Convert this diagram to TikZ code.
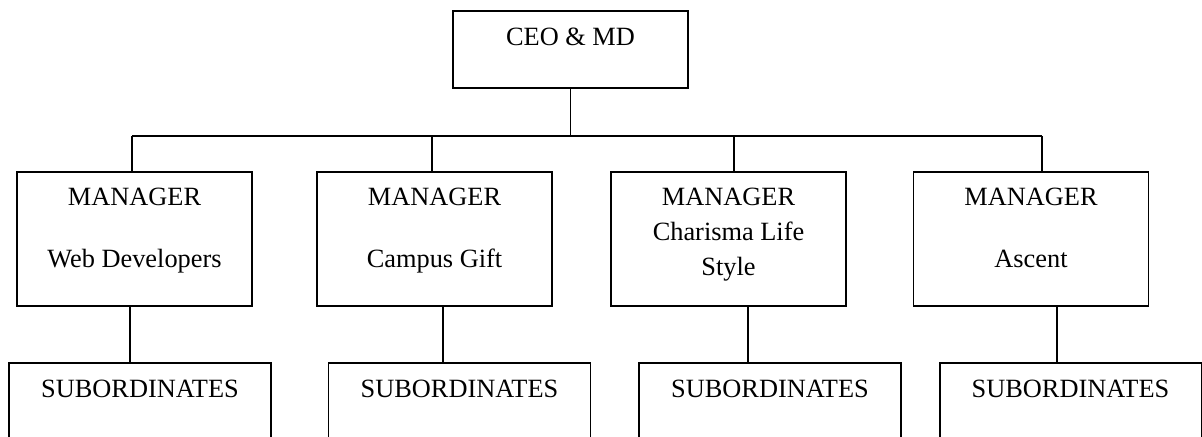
\documentclass[tikz,border=0pt]{standalone}
\usepackage{fontspec}
\setmainfont{Liberation Serif}
\newcommand{\boxlines}[1]{\begin{tabular}[t]{@{}c@{}}#1\end{tabular}}
\begin{document}
\begin{tikzpicture}[x=0.016cm, y=-0.016cm, line width=0.8pt,
		font=\fontsize{12pt}{16pt}\selectfont,
		ceobox/.style={draw, rectangle, inner sep=0pt, minimum width=3.76cm, anchor=north, text height=15.9pt, text depth=19.1pt},
		mgrbox/.style={draw, rectangle, inner sep=0pt, minimum width=3.76cm, anchor=north, text height=15.4pt, text depth=45.8pt},
		subbox/.style={draw, rectangle, inner sep=0pt, minimum width=4.19cm, anchor=north, text height=15.9pt, text depth=40pt}]
			\useasboundingbox (0,0) rectangle (1202,437);
			\clip (0,0) rectangle (1202,437);

			\node (ceo)[ceobox] at (570.5, 10) {CEO \& MD};

			\node (m1)[mgrbox] at (134.5, 171) {\boxlines{MANAGER\\[12pt]Web Developers}};
			\node (m2)[mgrbox] at (434.5, 171) {\boxlines{MANAGER\\[12pt]Campus Gift}};
			\node (m3)[mgrbox] at (728.5, 171) {\boxlines{MANAGER\\Charisma Life\\Style}};
			\node (m4)[mgrbox] at (1031, 171) {\boxlines{MANAGER\\[12pt]Ascent}};

			\node (s1)[subbox] at (140, 362) {SUBORDINATES};
			\node (s2)[subbox] at (459.5, 362) {SUBORDINATES};
			\node (s3)[subbox] at (770, 362) {SUBORDINATES};
			\node (s4)[subbox] at (1070.5, 362) {SUBORDINATES};

			\coordinate (j1) at (132, 136);
			\coordinate (j2) at (432, 136);
			\coordinate (j3) at (734, 136);
			\coordinate (j4) at (1042, 136);

			\draw (j1) -- (j4);
			\draw (ceo.south) -- (ceo.south |- j1);
			\foreach \i in {1,...,4}
				\draw (j\i) -- (j\i |- m\i.north);
			\foreach \i/\x in {1/130, 2/443, 3/748, 4/1057}
				\draw (m\i.south -| \x,0) -- (s\i.north -| \x,0);
		\end{tikzpicture}
\end{document}
